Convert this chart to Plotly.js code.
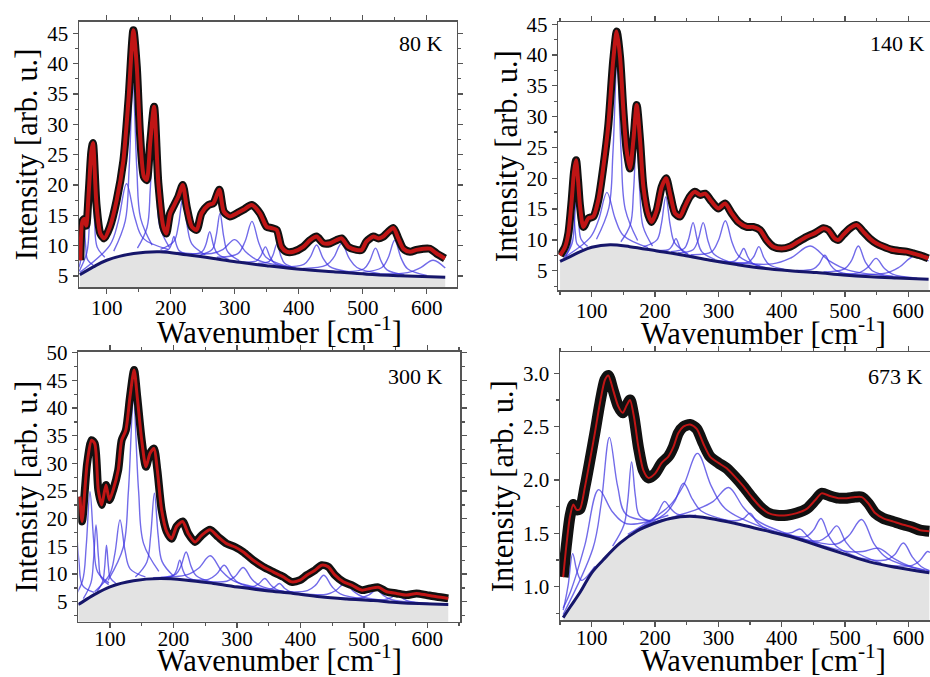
<!DOCTYPE html>
<html><head><meta charset="utf-8">
<script src="https://cdn.plot.ly/plotly-3.0.1.min.js"></script>
<style>html,body{margin:0;padding:0;background:#fff;}#chart{width:930px;height:677px;}</style>
</head><body><div id="chart"></div>
<script>
// ---------- DATA ----------
const temps = ['80 K', '140 K', '300 K', '673 K'];
const xTitle = 'Wavenumber [cm<sup>-1</sup>]';
const yTitle = 'Intensity [arb. u.]';

const x80 = [58.8,62,65,68,72,76,78.5,84,90,96,105,115.6,126,134,141.7,147,152,158,162.5,168,174,180.7,188.5,193,199,204,212,218.8,225,233,240.6,248,259,266.7,276,283,292.7,303,313.5,326.6,339.6,350,357.8,365.6,373,381,391.7,407,417.7,428,438.5,449,459,467,477.6,490.6,498.4,506,516.7,524.5,532.3,540,548,555.7,563.5,574,584,594.8,605,615.6,628.6];
const y80 = [7.6,14.0,14.4,13.3,19,25.5,26.9,16.8,12,11.2,13.1,17.5,24,34,45.5,39.5,28.5,21.4,20.8,27,32.9,20.3,13.1,12.0,15.3,16.4,18.1,20,16.4,13.1,12.6,15.3,16.7,17,19.2,15.6,14.8,15.3,15.9,16.7,15.3,13.1,12.9,12.6,9.8,9.0,9.0,9.8,10.9,11.5,10.4,10.4,10.9,11.2,9.8,9.3,9.3,10.7,11.5,11.2,11.5,12.3,12.9,11.2,9.5,9.0,9.3,9.5,9.5,8.7,7.9];

const x140 = [50,58,63,68.4,72,75.3,78.5,81.6,86.8,94.7,102.6,110.5,118.4,126,134,139.5,144.7,150,155,160.5,165.8,171,176.3,181.6,189.5,194.7,202.6,210.5,217.4,223.7,231.6,239.5,247,255,263,271,279,289.5,300,310.5,321,331.6,344.7,355,365.8,376,386.8,400,413,426,439.5,452.6,465.8,473.7,484,489.5,497,508,518.4,529,539.5,550,560.5,573.7,586.8,597,608,618.4,631.6];
const y140 = [7.5,8.9,11,16.5,21,22.9,19.5,15.4,12.1,13.5,13.8,16.5,21.9,28.4,39.2,43.8,39.7,31,24.6,21.6,26.2,31.9,26.2,18.6,14.0,12.9,14.8,18.6,20,17.5,14.3,13.8,15.4,17,17.8,17.3,17.5,16.2,15.1,15.9,14.3,12.9,12.1,12.1,11.6,10,8.9,8.6,8.9,9.7,10.5,11.1,11.9,11.6,10.2,10.0,10.8,11.9,12.4,11.3,10.2,9.4,8.9,8.4,8.2,8.1,7.8,7.5,7.0];

const x300 = [52.7,56,64,71,76,81.6,87,93.7,99,105,113,118.4,125,131.5,138,143,150,156.7,163,169.3,174.6,181.4,189.3,197,205,214.5,223.4,234,244.4,257.6,270.7,283.8,297,310,325.8,341.6,357,373,386,399.4,410,423,433.5,444,454.5,467.6,480.8,496.5,509.7,522.8,536,551.7,567.4,583,599,614.7,633];
const y300 = [24,19.5,30,34.2,33.6,25.2,22.5,26.1,23.4,25.2,28.8,34.2,36,42,46.9,42,34.2,29.4,31.8,32.7,28.8,21.6,17.7,16.4,18.6,19.5,17.3,15.8,17.0,18,16.7,15.5,14.9,14,12.5,11.3,10.4,9.5,8.6,8.9,9.8,10.7,11.6,11.3,9.8,8.6,8.0,7.1,7.4,7.6,6.8,6.5,6.2,6.5,6.2,5.9,5.6];

const x673 = [55,60.5,65.8,71,76.3,81.6,89.5,97.4,105,113,121,126.3,134,142,149,155.3,160.5,166.8,173.7,181.6,189.5,200,210.5,221,229,236.8,244.7,255.3,265.8,276.3,286.8,300,313,326.3,339.5,352.6,365.8,379,392,408,423.7,439.5,452.6,463,476.3,489.5,502.6,515.8,526.3,536.8,547.4,560.5,576.3,592,605,618.4,633];
const y673 = [1.09,1.41,1.66,1.77,1.72,1.73,1.94,2.19,2.44,2.72,2.94,2.98,2.84,2.69,2.63,2.70,2.75,2.59,2.31,2.09,2.02,2.06,2.16,2.22,2.31,2.44,2.5,2.52,2.48,2.34,2.22,2.16,2.11,2.03,1.94,1.84,1.75,1.69,1.67,1.67,1.69,1.73,1.81,1.875,1.85,1.83,1.83,1.84,1.84,1.78,1.69,1.64,1.61,1.58,1.56,1.53,1.52];

const bx80 = [58,79,100,142,183,225,267,308,350,402,454,506,558,629];
const by80 = [5.2,6.5,7.6,8.7,9.0,8.5,7.9,7.25,6.7,6.1,5.7,5.3,5.05,4.8];
const bx140 = [50,66,82,100,129,160,203,245,287,329,371,413,455,497,540,582,632];
const by140 = [6.5,7.3,8.1,8.8,9.2,8.9,8.2,7.5,6.7,6.0,5.4,5.0,4.7,4.3,4.0,3.8,3.6];
const bx300 = [50,53,74,100,137,179,221,263,305,347,389,431,473,515,557,633];
const by300 = [4.5,4.7,6.2,7.7,8.8,9.2,8.9,8.3,7.6,7.0,6.5,5.9,5.5,5.2,4.8,4.5];
const bx673 = [55,66,82,100,118,145,171,197,224,255,287,329,371,413,455,497,540,582,633];
const by673 = [0.71,0.81,0.95,1.13,1.25,1.41,1.52,1.59,1.64,1.66,1.64,1.59,1.53,1.47,1.39,1.31,1.23,1.18,1.13];

const comps80 = [
 [[49,58,61,64,67,70,79],[5.1,6.9,9.7,14.2,10.1,7.7,6.8]],
 [[57,69,73,77,81,85,97],[5.8,8.9,13.7,21.4,14.1,9.8,8.1]],
 [[58,105,118,131,144,157,196],[5.6,10.1,14.0,20.2,14.6,11.2,9.4]],
 [[111,129,135,141,147,153,171],[9.1,14.1,22.6,36.8,22.8,14.5,10.1]],
 [[148,163,168,173,178,183,198],[9.6,13.0,19.2,29.5,19.3,13.1,9.7]],
 [[185,197,201,205,209,213,225],[9.1,9.4,10.2,11.5,10.1,9.2,8.6]],
 [[184,205,212,219,226,233,254],[9.4,10.7,13.3,17.9,13.1,10.3,8.5]],
 [[231,249,255,261,267,273,291],[8.6,9.0,10.2,12.3,10.0,8.7,7.7]],
 [[247,265,271,277,283,289,307],[8.5,9.4,11.6,15.3,11.4,9.0,7.55]],
 [[210,264,282,300,318,336,390],[8.9,8.7,9.4,11.0,8.9,7.6,6.4]],
 [[272,305,316,327,338,349,382],[8.1,8.7,10.65,14.0,10.35,8.1,6.6]],
 [[313,334,341,348,355,362,383],[7.3,7.5,8.35,9.8,8.2,7.15,6.4]],
 [[336,354,360,366,372,378,396],[7.05,7.4,8.5,10.3,8.35,7.1,6.3]],
 [[378,408,418,428,438,448,478],[6.5,6.9,8.1,10.1,7.95,6.6,5.7]],
 [[407,443,455,467,479,491,527],[6.25,6.8,8.1,10.4,7.9,6.4,5.4]],
 [[475,502,511,520,529,538,565],[5.7,6.2,7.5,9.6,7.4,6.0,5.2]],
 [[500,530,540,550,560,570,600],[5.6,6.4,8.05,10.9,7.95,6.2,5.1]],
 [[510,570,590,610,629],[5.4,5.55,6.35,7.6,6.3]]
];
const comps140 = [
 [[56,65,68,71,74,77,86],[7.1,8.7,11.0,14.7,11.3,9.3,8.55]],
 [[58.5,69,72.5,76,79.5,83,93.5],[7.3,9.45,12.6,17.8,13.0,10.15,8.95]],
 [[59,98,111,124,137,150,189],[7.3,10.45,13.3,17.7,13.45,10.7,8.75]],
 [[107.5,127,133.5,140,146.5,153,172.5],[10.1,15.2,24.2,39.2,24.05,14.95,9.9]],
 [[146,161,166,171,176,181,196],[9.7,12.5,17.9,27.0,17.7,12.2,9.0]],
 [[182,203,210,217,224,231,252],[8.9,10.0,12.6,17.0,12.35,9.5,7.7]],
 [[203,221,227,233,239,245,263],[8.3,8.4,9.05,10.2,8.85,8.0,7.25]],
 [[225,246,253,260,267,274,295],[8.1,8.6,10.15,12.8,9.9,8.05,6.8]],
 [[236,260,268,276,284,292,316],[7.9,8.4,10.0,12.8,9.7,7.8,6.45]],
 [[256,289,300,311,322,333,366],[7.6,8.05,9.9,13.1,9.5,7.3,5.7]],
 [[305,326,333,340,347,354,375],[6.45,6.6,7.35,8.6,7.15,6.2,5.5]],
 [[324,348,356,364,372,380,404],[6.2,6.45,7.3,8.9,7.1,6.0,5.2]],
 [[295,385,415,445,475,505,595],[6.7,6.1,7.1,9.0,6.6,5.1,3.9]],
 [[423,450,459,468,477,486,513],[5.05,5.3,6.1,7.5,5.95,5.0,4.3]],
 [[466,499,510,521,532,543,576],[4.8,5.3,6.6,9.0,6.45,5.0,4.05]],
 [[484,523,536,549,562,575,614],[4.5,4.7,5.55,7.0,5.4,4.45,3.8]],
 [[498,564,586,608,632],[4.45,4.6,5.6,7.3,6.6]]
];
const comps300 = [
 [[21,33,39,45,51,57,75],[3.5,7.4,12.2,20,12.5,7.9,6.7]],
 [[38.5,56.5,62.5,68.5,74.5,80.5,98.5],[4.8,8.7,14.95,24.9,15.8,10.4,8.4]],
 [[58,70,74,78,82,86,98],[5.55,8.4,12.4,18.9,12.9,9.4,8.1]],
 [[79.5,88.5,91.5,94.5,97.5,100.5,109.5],[6.8,8.65,11.1,15.2,11.45,9.3,8.3]],
 [[75.8,99.8,107.8,115.8,123.8,131.8,155.8],[6.8,10.0,13.75,19.8,14.2,10.95,9.5]],
 [[97,121,129,137,145,153,177],[8.85,14.85,24.9,41.4,25.2,15.5,10.5]],
 [[140,158,164,170,176,182,200],[9.45,12.15,16.8,24.6,16.9,12.3,9.65]],
 [[185,200,205,210,215,220,235],[9.35,9.75,10.75,12.5,10.7,9.6,8.85]],
 [[180,204,212,220,228,236,260],[9.4,10.0,11.5,14.0,11.35,9.7,8.55]],
 [[168,222,240,258,276,294,348],[9.35,9.9,11.1,13.3,10.55,8.8,7.2]],
 [[220,256,268,280,292,304,340],[9.05,9.1,10.0,11.6,9.6,8.3,7.25]],
 [[245,284,297,310,323,336,375],[8.7,8.7,9.55,11.2,9.15,7.9,6.8]],
 [[299,326,335,344,353,362,389],[7.8,7.75,8.3,9.2,8.05,7.25,6.6]],
 [[327,351,359,367,375,383,407],[7.35,7.25,7.6,8.3,7.45,6.85,6.3]],
 [[372,411,424,437,450,463,502],[6.85,7.0,8.0,9.8,7.7,6.4,5.45]],
 [[400,442,456,470,484,498,540],[6.45,6.35,7.05,8.3,6.85,5.9,5.1]],
 [[460,496,508,520,532,544,580],[5.7,5.75,6.25,7.1,6.05,5.35,4.85]],
 [[502,532,542,552,562,572,602],[5.35,5.35,5.7,6.3,5.55,5.05,4.7]]
];
const comps673 = [
 [[55,58,63,70,77,84,105],[0.78,0.86,1.02,1.31,1.14,1.06,1.19]],
 [[55,67,89,111,133,155,221],[0.8,0.96,1.385,1.91,1.7,1.59,1.67]],
 [[55,102,115,128,141,154,193],[0.74,1.36,1.78,2.40,1.94,1.68,1.62]],
 [[133,151,157,163,169,175,193],[1.38,1.58,1.81,2.17,1.85,1.67,1.61]],
 [[165,195,205,215,225,235,265],[1.51,1.62,1.7,1.80,1.73,1.68,1.67]],
 [[175,217,231,245,259,273,315],[1.54,1.69,1.8,1.97,1.82,1.71,1.62]],
 [[157,223,245,267,289,311,377],[1.49,1.76,1.95,2.25,1.94,1.73,1.54]],
 [[196,268,292,316,340,364,436],[1.6,1.73,1.8,1.93,1.74,1.61,1.44]],
 [[300,330,340,350,360,370,400],[1.63,1.62,1.64,1.69,1.61,1.56,1.5]],
 [[369,405,417,429,441,453,489],[1.53,1.5,1.51,1.54,1.47,1.41,1.33]],
 [[402,438,450,462,474,486,522],[1.5,1.47,1.53,1.64,1.48,1.38,1.27]],
 [[417,459,473,487,501,515,557],[1.47,1.43,1.48,1.57,1.42,1.33,1.22]],
 [[426,486,506,526,546,566,626],[1.46,1.4,1.48,1.63,1.4,1.27,1.15]],
 [[428,503,528,553,578,603,633],[1.45,1.33,1.33,1.36,1.26,1.19,1.15]],
 [[522,564,578,592,606,620,633],[1.27,1.25,1.3,1.41,1.28,1.19,1.15]],
 [[570,606,618,630,634],[1.2,1.2,1.245,1.33,1.32]]
];

// ---------- BUILD ----------
const FONT = 'Liberation Serif';
const panels = [
  {sx:'', x:x80,  y:y80,  bx:bx80,  by:by80,  comps:comps80,  blackW:8,  redW:4},
  {sx:'2',x:x140, y:y140, bx:bx140, by:by140, comps:comps140, blackW:8,  redW:4},
  {sx:'3',x:x300, y:y300, bx:bx300, by:by300, comps:comps300, blackW:8,  redW:3},
  {sx:'4',x:x673, y:y673, bx:bx673, by:by673, comps:comps673, blackW:11, redW:2}
];
const traces = [];
panels.forEach(p => {
  const xa = 'x' + p.sx, ya = 'y' + p.sx;
  traces.push({type:'scatter', mode:'lines', x:p.bx, y:p.by, xaxis:xa, yaxis:ya,
    fill:'tozeroy', fillcolor:'#e3e3e3', line:{color:'rgba(0,0,0,0)', width:0, shape:'spline'},
    hoverinfo:'skip', showlegend:false});
  p.comps.forEach(c => {
    traces.push({type:'scatter', mode:'lines', x:c[0], y:c[1], xaxis:xa, yaxis:ya,
      line:{color:'rgba(60,50,225,0.72)', width:1.4, shape:'spline', smoothing:1},
      hoverinfo:'skip', showlegend:false});
  });
  traces.push({type:'scatter', mode:'lines', x:p.bx, y:p.by, xaxis:xa, yaxis:ya,
    line:{color:'#16166a', width:3, shape:'spline'}, hoverinfo:'skip', showlegend:false});
  traces.push({type:'scatter', mode:'lines', x:p.x, y:p.y, xaxis:xa, yaxis:ya,
    line:{color:'#111111', width:p.blackW, shape:'spline', smoothing:0.7}, showlegend:false});
  traces.push({type:'scatter', mode:'lines', x:p.x, y:p.y, xaxis:xa, yaxis:ya,
    line:{color:'#c01515', width:p.redW, shape:'spline', smoothing:0.7}, showlegend:false});
});

const W = 930, H = 677;
function xAxis(l, r, range, anchor, so) {
  return {domain:[l/W, r/W], range:range, anchor:anchor, showgrid:false, zeroline:false,
    showline:true, linecolor:'#555', linewidth:1.5, mirror:'ticks',
    ticks:'outside', ticklen:5, tickwidth:1.3, tickcolor:'#555', tick0:0, dtick:100,
    ticklabelstandoff:so,
    minor:{dtick:50, ticks:'outside', ticklen:3, tickcolor:'#555', tickwidth:1.2},
    tickfont:{family:FONT, size:21, color:'#000'}};
}
function yAxis(t, b, range, anchor, dt, fmt) {
  return {domain:[(H-b)/H, (H-t)/H], range:range, anchor:anchor, showgrid:false, zeroline:false,
    showline:true, linecolor:'#555', linewidth:1.5, mirror:'ticks',
    ticks:'outside', ticklen:5, tickwidth:1.3, tickcolor:'#555', tick0:0, dtick:dt, tickformat:fmt,
    minor:{dtick:dt/2, ticks:'outside', ticklen:3, tickcolor:'#555', tickwidth:1.2},
    tickfont:{family:FONT, size:21, color:'#000'},
    title:{text:yTitle, font:{family:FONT, size:30.5, color:'#000'}, standoff:0}};
}
function label(txt, xr, yc) {
  return {text:txt, xref:'paper', yref:'paper', x:xr/W, y:(H-yc)/H, xanchor:'right', yanchor:'middle',
    showarrow:false, font:{family:FONT, size:22, color:'#000'}};
}
function xlab(xc, yc) {
  return {text:xTitle, xref:'paper', yref:'paper', x:xc/W, y:(H-yc)/H, xanchor:'center', yanchor:'middle',
    showarrow:false, font:{family:FONT, size:30.5, color:'#000'}};
}
const layout = {
  width:W, height:H, margin:{l:0, r:0, t:0, b:0}, paper_bgcolor:'#fff', plot_bgcolor:'#fff',
  showlegend:false,
  xaxis:  xAxis(79, 456.7, [56.7, 646.9], 'y', -4),
  yaxis:  yAxis(21.7, 287.3, [3.14, 46.9], 'x', 5, ''),
  xaxis2: xAxis(558.3, 930, [47.2, 634.2], 'y2', -4),
  yaxis2: yAxis(22.3, 290, [1.87, 45.3], 'x2', 5, ''),
  xaxis3: xAxis(78.3, 460, [50.1, 651.5], 'y3', -7),
  yaxis3: yAxis(351.7, 621.7, [1.39, 50.2], 'x3', 5, ''),
  xaxis4: xAxis(560, 930, [50, 634], 'y4', -7),
  yaxis4: yAxis(352.3, 620, [0.688, 3.197], 'x4', 0.5, '.1f'),
  annotations:[label(temps[0],445,43), label(temps[1],926.7,43), label(temps[2],445,376.7), label(temps[3],925,376),
    xlab(279.5,330), xlab(763.5,331), xlab(279.5,658), xlab(763.5,658)]
};
Plotly.newPlot('chart', traces, layout, {displayModeBar:false, staticPlot:true});
</script></body></html>
